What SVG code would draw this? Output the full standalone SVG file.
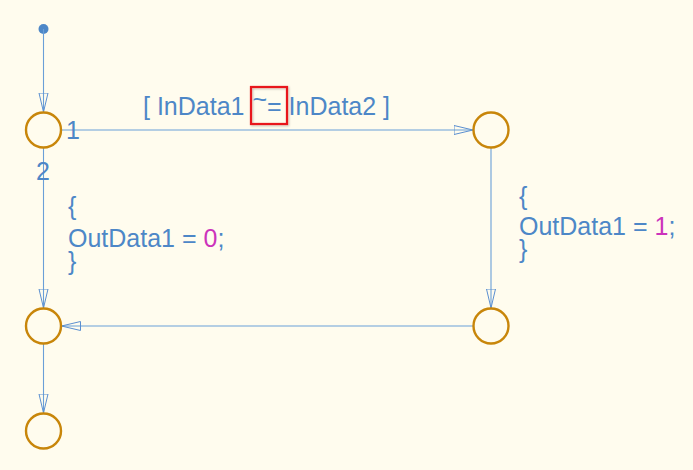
<svg xmlns="http://www.w3.org/2000/svg" width="693" height="470" viewBox="0 0 693 470">
<defs>
<marker id="arr" markerWidth="20" markerHeight="12" refX="19" refY="5" orient="auto" markerUnits="userSpaceOnUse" viewBox="0 0 20 10">
<path d="M0,0.5 L19,5 L0,9.5 Z" fill="none" stroke="#5b8fd0" stroke-width="1"/>
</marker>
<filter id="sh" x="-20%" y="-20%" width="140%" height="140%">
<feDropShadow dx="1" dy="1" stdDeviation="1" flood-color="#000" flood-opacity="0.25"/>
</filter>
</defs>
<style>
.j{fill:none;stroke:#c8860a;stroke-width:2.4}
.c{fill:none;stroke:#6a9fd8;stroke-width:1.1}
.t{font-family:"Liberation Sans",Arial,sans-serif;font-size:25px;fill:#4d87c7}
.n{fill:#cc33bb}
</style>
<rect width="693" height="470" fill="#fffcee"/>
<g id="connectors">
<circle cx="43.5" cy="29" r="5" fill="#4d87c7"/>
<line class="c" x1="43.5" y1="29" x2="43.5" y2="112" marker-end="url(#arr)"/>
<line class="c" x1="61.5" y1="130" x2="473" y2="130" marker-end="url(#arr)"/>
<line class="c" x1="43.5" y1="148" x2="43.5" y2="308" marker-end="url(#arr)"/>
<line class="c" x1="491" y1="148" x2="491" y2="308" marker-end="url(#arr)"/>
<line class="c" x1="473" y1="326" x2="61.5" y2="326" marker-end="url(#arr)"/>
<line class="c" x1="43.5" y1="344" x2="43.5" y2="413" marker-end="url(#arr)"/>
</g>
<g id="j1"><circle class="j" cx="43.5" cy="130" r="17.5"/></g>
<g id="j2"><circle class="j" cx="491" cy="130" r="17.5"/></g>
<g id="j3"><circle class="j" cx="491" cy="326" r="17.5"/></g>
<g id="j4"><circle class="j" cx="43.5" cy="326" r="17.5"/></g>
<g id="j5"><circle class="j" cx="43.5" cy="431" r="17.5"/></g>
<g id="labels">
<rect x="251" y="87" width="36" height="37" fill="none" stroke="#e8141c" stroke-width="2.2" filter="url(#sh)"/>
<text class="t" x="143" y="115">[ InData1 <tspan dx="1" dy="-7">~</tspan><tspan dy="7">=</tspan> InData2 ]</text>
<text class="t" x="66" y="139">1</text>
<text class="t" x="36" y="180">2</text>
<text class="t"><tspan x="68" y="215">{</tspan><tspan x="68" y="247">OutData1 = <tspan class="n">0</tspan>;</tspan><tspan x="68" y="270">}</tspan></text>
<text class="t"><tspan x="519" y="205">{</tspan><tspan x="519" y="235">OutData1 = <tspan class="n">1</tspan>;</tspan><tspan x="519" y="258">}</tspan></text>
</g>
</svg>
